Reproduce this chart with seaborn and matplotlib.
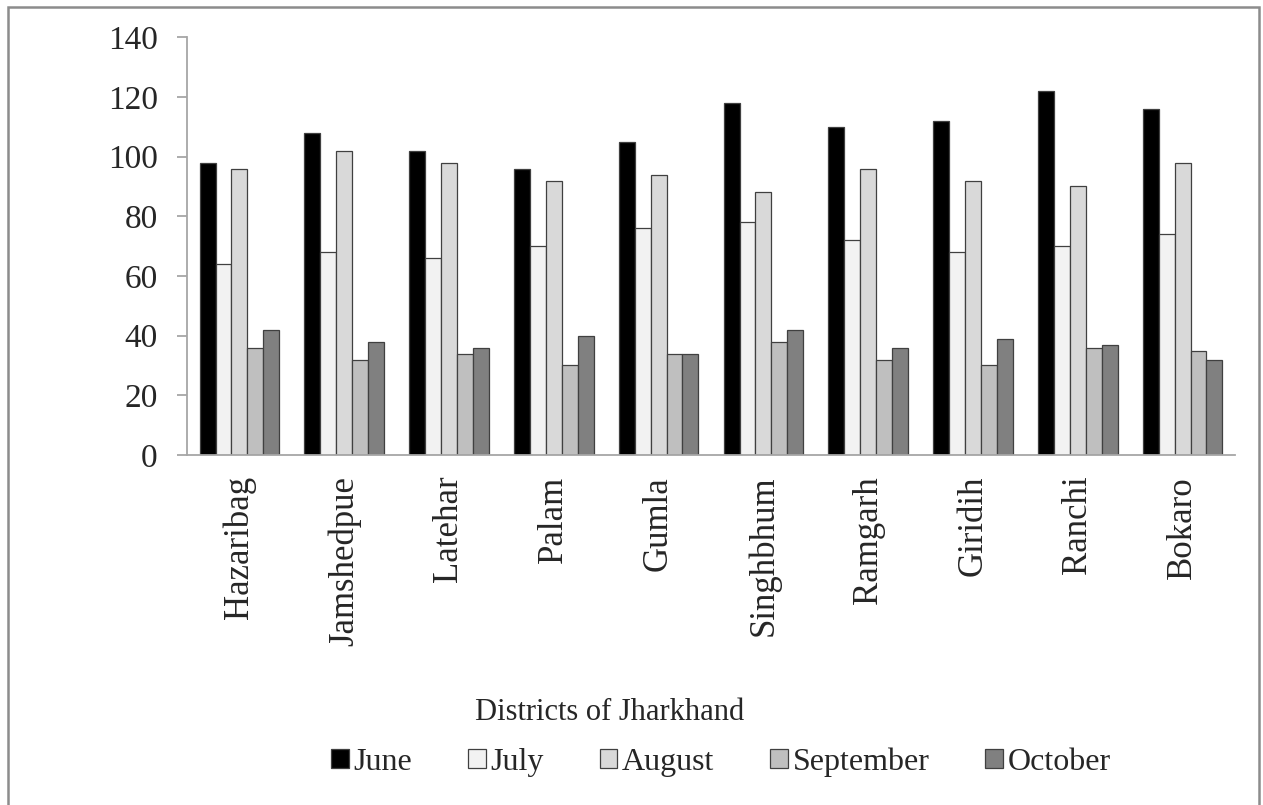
import matplotlib
matplotlib.use("Agg")
import matplotlib.pyplot as plt
import seaborn as sns
import pandas as pd
from matplotlib.patches import Rectangle

districts = ["Hazaribag", "Jamshedpue", "Latehar", "Palam", "Gumla",
             "Singhbhum", "Ramgarh", "Giridih", "Ranchi", "Bokaro"]
months = ["June", "July", "August", "September", "October"]
june = [98, 108, 102, 96, 105, 118, 110, 112, 122, 116]
july = [64, 68, 66, 70, 76, 78, 72, 68, 70, 74]
august = [96, 102, 98, 92, 94, 88, 96, 92, 90, 98]
september = [36, 32, 34, 30, 34, 38, 32, 30, 36, 35]
october = [42, 38, 36, 40, 34, 42, 36, 39, 37, 32]
colors = ["#000000", "#f2f2f2", "#d9d9d9", "#bfbfbf", "#808080"]
yticks = [0, 20, 40, 60, 80, 100, 120, 140]

series = {"June": june, "July": july, "August": august,
          "September": september, "October": october}
rows = []
for m in months:
    for d, v in zip(districts, series[m]):
        rows.append({"District": d, "Month": m, "Value": v})
df = pd.DataFrame(rows)

sns.set_style("white")
plt.rcParams["font.family"] = ["Liberation Serif", "DejaVu Serif"]

W, H = 1263, 805
fig = plt.figure(figsize=(W / 100, H / 100), dpi=100)
ax = fig.add_axes([187 / W, 1 - 455 / H, (1235 - 187) / W, (455 - 37.3) / H])

sns.barplot(data=df, x="District", y="Value", hue="Month", order=districts,
            hue_order=months, palette=colors, width=0.76, edgecolor="#404040",
            linewidth=0.9, saturation=1, ax=ax)

handles, labels = ax.get_legend_handles_labels()
if ax.legend_ is not None:
    ax.legend_.remove()

ax.set_xlim(-0.5, len(districts) - 0.5)
ax.set_ylim(0, 140)
ax.set_yticks(yticks)
ax.set_yticklabels([str(t) for t in yticks], fontsize=24)
ax.set_xlabel("")
ax.set_ylabel("")

spine_col = "#a6a6a6"
for s in ["top", "right"]:
    ax.spines[s].set_visible(False)
for s in ["left", "bottom"]:
    ax.spines[s].set_color(spine_col)
    ax.spines[s].set_linewidth(1.3)

ax.set_xticks(range(len(districts)))
ax.set_xticklabels(districts, rotation=90, fontsize=25)
ax.set_xticks([i - 0.5 for i in range(len(districts) + 1)], minor=True)
ax.tick_params(axis="x", which="major", length=0, pad=15)
ax.tick_params(axis="x", which="minor", length=8, width=1.3, color=spine_col, direction="out")
ax.tick_params(axis="y", which="major", length=7, width=1.3, color=spine_col,
               direction="out", pad=14, left=True)

fig.text(610 / W, 1 - 712 / H, "Districts of Jharkhand", fontsize=22,
         ha="center", va="center")

fig.legend(handles, labels, loc="center", bbox_to_anchor=(721 / W, 1 - 762 / H),
           ncol=5, frameon=False, fontsize=23, handlelength=0.55, handleheight=0.55,
           handletextpad=0.15, columnspacing=1.75, borderaxespad=0)

fig.patches.append(Rectangle((8 / W, -0.01), (1259 - 8) / W, 1 - 7 / H + 0.01,
                             transform=fig.transFigure, fill=False,
                             edgecolor="#8c8c8c", linewidth=1.8))

fig.savefig("out.png", dpi=100)
